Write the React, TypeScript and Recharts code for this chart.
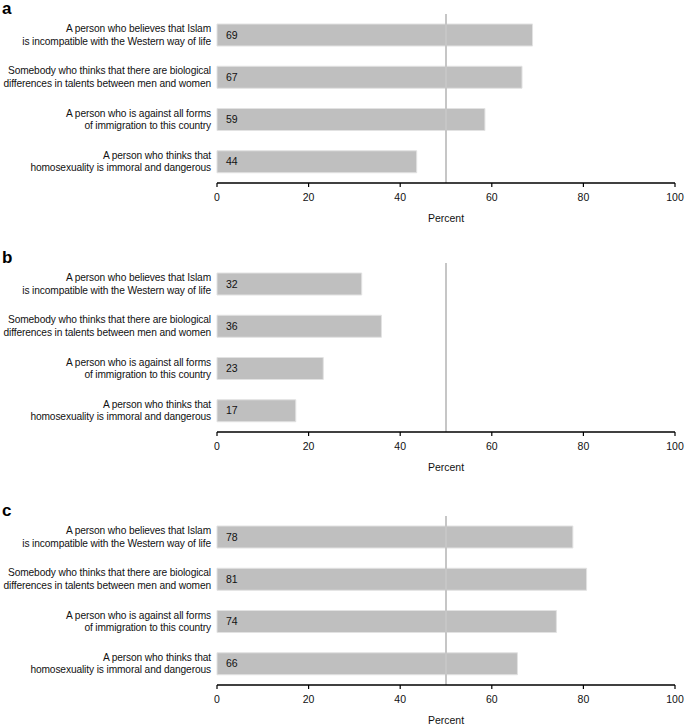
import { Bar, BarChart, LabelList, ReferenceLine, XAxis, YAxis } from "recharts";

const categories = [
  "A person who believes that Islam\nis incompatible with the Western way of life",
  "Somebody who thinks that there are biological\ndifferences in talents between men and women",
  "A person who is against all forms\nof immigration to this country",
  "A person who thinks that\nhomosexuality is immoral and dangerous",
];

// bar lengths (labels print the rounded value)
const panelA = [68.9, 66.6, 58.5, 43.6];
const panelB = [31.6, 35.9, 23.2, 17.2];
const panelC = [77.7, 80.7, 74.1, 65.6];

const xTicks = [0, 20, 40, 60, 80, 100];
const midline = 50;

const FONT = "'Liberation Sans', Arial, sans-serif";
const W = 685;

/** Two-line right-aligned category label. */
function CategoryTick(props: { x?: number; y?: number; payload?: { value?: string } }) {
  const { y = 0, payload } = props;
  const [l1, l2] = (payload?.value ?? "").split("\n");
  const common = {
    x: 211,
    textAnchor: "end" as const,
    fontSize: 10.2,
    letterSpacing: -0.12,
    fontFamily: FONT,
    fill: "#111",
  };
  return (
    <g>
      <text {...common} y={y - 3}>
        {l1}
      </text>
      <text {...common} y={y + 9.5}>
        {l2}
      </text>
    </g>
  );
}

function Panel({
  values,
  letter,
  height,
  top,
  bottom,
}: {
  values: number[];
  letter: string;
  height: number;
  top: number;
  bottom: number;
}) {
  const rows = categories.map((c, i) => ({ cat: c, v: values[i] }));
  return (
    <div style={{ position: "relative", width: W, height }}>
      <div
        style={{
          position: "absolute",
          left: 2,
          top: top - 14,
          fontFamily: FONT,
          fontWeight: 700,
          fontSize: 17,
          lineHeight: "17px",
          color: "#000",
        }}
      >
        {letter}
      </div>
      <BarChart
        width={W}
        height={height}
        data={rows}
        layout="vertical"
        margin={{ top, right: 10, bottom, left: 0 }}
        barSize={22}
      >
        <XAxis
          type="number"
          domain={[0, 100]}
          ticks={xTicks}
          interval={0}
          height={40}
          axisLine={{ stroke: "#000", strokeWidth: 1.5 }}
          tickLine={{ stroke: "#000", strokeWidth: 1.2 }}
          tickSize={4}
          tickMargin={7}
          tick={{ fill: "#111", fontSize: 10.5, fontFamily: FONT }}
          label={{
            value: "Percent",
            position: "insideBottom",
            offset: 1,
            fill: "#111",
            fontSize: 10.5,
            fontFamily: FONT,
          }}
        />
        <YAxis
          type="category"
          dataKey="cat"
          width={217}
          axisLine={false}
          tickLine={false}
          interval={0}
          tick={<CategoryTick />}
        />
        <ReferenceLine x={midline} stroke="#c6c6c6" strokeWidth={2} />
        <Bar dataKey="v" fill="#bfbfbf" stroke="#e2e2e2" strokeWidth={1} isAnimationActive={false}>
          <LabelList
            dataKey="v"
            position="insideLeft"
            offset={9}
            formatter={(v: number) => Math.round(v)}
            fill="#111"
            fontSize={10.5}
            fontFamily={FONT}
          />
        </Bar>
      </BarChart>
    </div>
  );
}

export default function App() {
  return (
    <div style={{ width: W, height: 728, background: "#fff" }}>
      <style>{`body{margin:0;background:#fff}`}</style>
      <Panel values={panelA} letter="a" height={243} top={14} bottom={20} />
      <Panel values={panelB} letter="b" height={247} top={20} bottom={18} />
      <Panel values={panelC} letter="c" height={238} top={26} bottom={3} />
    </div>
  );
}
